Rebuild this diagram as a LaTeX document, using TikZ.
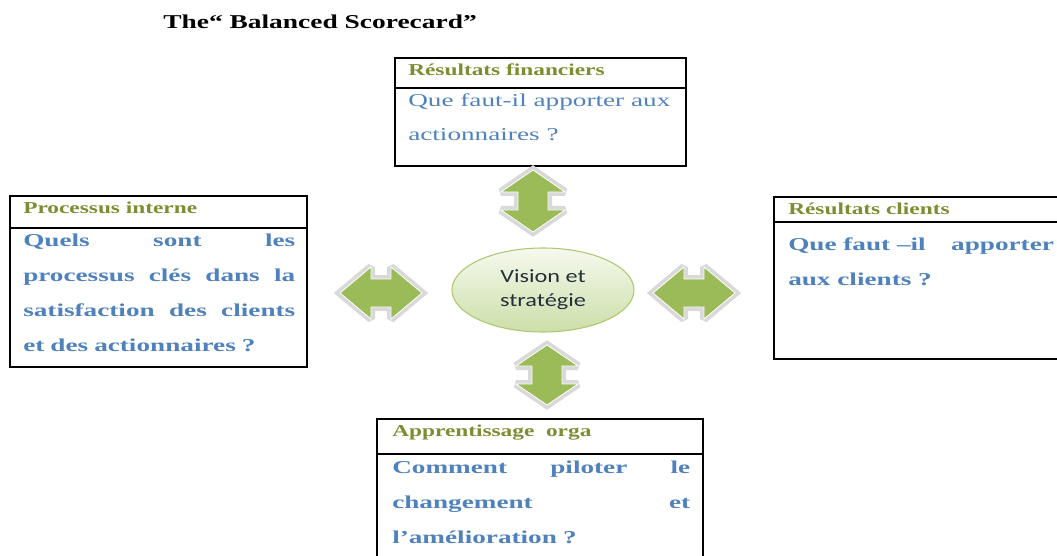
\documentclass[tikz,border=0pt]{standalone}
\usepackage{fontspec}
\setmainfont{Liberation Serif}[FakeStretch=1.4]
\newfontfamily\bodyfont{Liberation Serif}[FakeStretch=1.5]
\newfontfamily\visionfont{Carlito}[FakeStretch=1.3]
\usetikzlibrary{shapes.geometric}

\definecolor{olivehead}{RGB}{126,140,50}
\definecolor{bodyblue}{RGB}{79,129,189}
\definecolor{arrowgreen}{RGB}{155,187,89}
\definecolor{visiontop}{RGB}{246,249,238}
\definecolor{visionbot}{RGB}{204,223,168}
\definecolor{visionedge}{RGB}{172,200,112}
\definecolor{visiontext}{RGB}{38,48,60}

\tikzset{
    cardline/.style={draw=black, line width=0.9pt},
    headtxt/.style={anchor=west, inner sep=0pt, text=olivehead, font=\bfseries\fontsize{12.5}{15}\selectfont},
    bodytxt/.style={anchor=north west, inner sep=0pt, text=bodyblue, align=left, font=\bodyfont\bfseries\fontsize{13.6}{26.25}\selectfont},
    arrowbevel/.style={fill=arrowgreen, draw=white, line width=0.6pt,
        preaction={draw=black!15, line width=6pt, miter limit=2}},
    % half length / head length / half head width / half shaft width
    pics/dblarrow/.style args={#1/#2/#3/#4}{code={
        \path[arrowbevel] (-#1,0) -- (-#1+#2,#3) -- (-#1+#2,#4) -- (#1-#2,#4) -- (#1-#2,#3) -- (#1,0)
            -- (#1-#2,-#3) -- (#1-#2,-#4) -- (-#1+#2,-#4) -- (-#1+#2,-#3) -- cycle;
    }}
}

\begin{document}
\begin{tikzpicture}[x=0.75pt, y=-0.75pt]
    \useasboundingbox (0,0) rectangle (1057,556);

    % title
    \node[anchor=west, inner sep=0pt, font=\bfseries\fontsize{14.7}{17}\selectfont] (title) at (163,22) {The“ Balanced Scorecard”};

    % Resultats financiers (top)
    \draw[cardline] (395,58) rectangle (686,166);
    \draw[cardline] (395,88) -- (686,88);
    \node[headtxt] (finHead) at (408,70) {Résultats financiers};
    \node[bodytxt, font=\bodyfont\fontsize{13.6}{25.5}\selectfont] (finBody) at (408,93) {Que faut-il apporter aux\\actionnaires ?};

    % Processus interne (left)
    \draw[cardline] (10,196) rectangle (307,367);
    \draw[cardline] (10,228) -- (307,228);
    \node[headtxt] (procHead) at (23,208) {Processus interne};
    \node[bodytxt, text width=204pt] (procBody) at (23,234) {Quels\hfill sont\hfill les\\processus\hfill clés\hfill dans\hfill la\\satisfaction\hfill des\hfill clients\\et des actionnaires ?};

    % Resultats clients (right)
    \draw[cardline] (774,197) rectangle (1075,359);
    \draw[cardline] (774,222) -- (1075,222);
    \node[headtxt] (cliHead) at (788,209) {Résultats clients};
    \node[bodytxt] (cliBody) at (788,237) {Que faut –il\hspace{1.4em}apporter\\aux clients ?};

    % Apprentissage orga (bottom)
    \draw[cardline] (377,419) rectangle (703,570);
    \draw[cardline] (377,454) -- (703,454);
    \node[headtxt] (appHead) at (392,433) {Apprentissage\ \ orga};
    \node[bodytxt, text width=223.5pt] (appBody) at (392,461) {Comment\hfill piloter\hfill le\\changement\hfill et\\l’amélioration ?};

    % centre
    \node[ellipse, minimum width=136.5pt, minimum height=63pt, top color=visiontop, bottom color=visionbot,
        draw=visionedge, line width=0.8pt, text=visiontext, align=center,
        font=\visionfont\fontsize{14}{18}\selectfont] (vision) at (543,290) {Vision et\\stratégie};

    % double arrows
    \pic[rotate=90] (arrTop) at (533,201) {dblarrow=31/22/32/15};
    \pic[rotate=90] (arrBot) at (547,375) {dblarrow=30/21/31/15};
    \pic (arrLeft) at (381,293) {dblarrow=41/31/26/14};
    \pic (arrRight) at (694,293) {dblarrow=41/31/26/14};
\end{tikzpicture}
\end{document}
